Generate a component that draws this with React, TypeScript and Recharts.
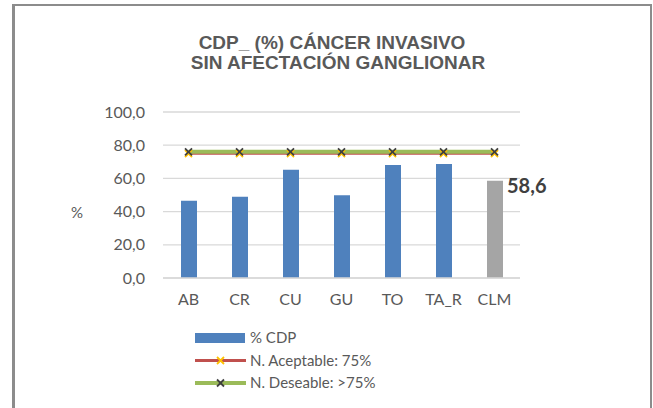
import React from "react";
import { ComposedChart, Bar, Line, XAxis, YAxis, CartesianGrid, Cell, LabelList } from "recharts";

const categories = ["AB", "CR", "CU", "GU", "TO", "TA_R", "CLM"];
const cdpValues = [46.5, 48.9, 65.2, 49.9, 68.1, 68.7, 58.6];
const aceptable = [75, 75, 75, 75, 75, 75, 75];
const deseable = [76, 76, 76, 76, 76, 76, 76];
const yTicks = [0, 20, 40, 60, 80, 100];
const titleLines = ["CDP_ (%) CÁNCER INVASIVO", "SIN AFECTACIÓN GANGLIONAR"];
const legendLabels = ["% CDP", "N. Aceptable: 75%", "N. Deseable: >75%"];

const data = categories.map((c, i) => ({
  cat: c,
  cdp: cdpValues[i],
  acep: aceptable[i],
  des: deseable[i],
}));

const BLUE = "#4f81bd";
const GREY = "#a5a5a5";
const RED = "#c0504d";
const GREEN = "#9bbb59";
const YELLOW = "#ffc000";
const DARK = "#404040";
const TEXT = "#595959";
const FONT = "Lato, 'Open Sans', sans-serif";

const XMark = (color: string) => (props: any) => {
  const { cx, cy } = props;
  if (cx == null || cy == null) return null;
  const s = 3.5;
  return (
    <g key={`${cx}-${cy}`}>
      <line x1={cx - s} y1={cy - s} x2={cx + s} y2={cy + s} stroke={color} strokeWidth={1.8} />
      <line x1={cx - s} y1={cy + s} x2={cx + s} y2={cy - s} stroke={color} strokeWidth={1.8} />
    </g>
  );
};

const fmt = (v: number) => v.toFixed(1).replace(".", ",");

const LegendBlock = () => {
  const types = ["bar", "acep", "des"];
  return (
    <svg width={260} height={70} style={{ position: "absolute", left: 195, top: 329, overflow: "visible" }}>
      {legendLabels.map((label, i) => {
        const y = 9 + i * 22.5;
        const t = types[i];
        return (
          <g key={label}>
            {t === "bar" && <rect x={0} y={y - 5} width={50} height={10} fill={BLUE} />}
            {t === "acep" && (
              <g>
                <line x1={0} y1={y} x2={51} y2={y} stroke={RED} strokeWidth={3} />
                {XMark(YELLOW)({ cx: 25.5, cy: y })}
              </g>
            )}
            {t === "des" && (
              <g>
                <line x1={0} y1={y} x2={51} y2={y} stroke={GREEN} strokeWidth={4} />
                {XMark(DARK)({ cx: 25.5, cy: y })}
              </g>
            )}
            <text x={55} y={y} dy="0.35em" fontSize={15} fill={TEXT} fontFamily={FONT}>
              {label}
            </text>
          </g>
        );
      })}
    </svg>
  );
};

export default function App() {
  return (
    <div style={{ position: "absolute", left: 0, top: 0, width: 653, height: 408, background: "#fff", overflow: "hidden" }}>
      <div
        style={{
          position: "absolute",
          left: 12,
          top: 4,
          width: 640,
          height: 420,
          borderTop: "2px solid #8c8c8c",
          borderLeft: "3px solid #8c8c8c",
          borderRight: "2px solid #8c8c8c",
          boxSizing: "border-box",
        }}
      />
      <ComposedChart
        width={653}
        height={408}
        data={data}
        margin={{ top: 112, right: 133, bottom: 100, left: 0 }}
        style={{ position: "absolute", left: 0, top: 0 }}
      >
        <text x={332} y={42} textAnchor="middle" dominantBaseline="central" fontSize={19} fontWeight="bold" fill={TEXT} fontFamily="'Liberation Sans', Arial, sans-serif">
          {titleLines[0]}
        </text>
        <text x={338} y={62} textAnchor="middle" dominantBaseline="central" fontSize={19} fontWeight="bold" fill={TEXT} fontFamily="'Liberation Sans', Arial, sans-serif">
          {titleLines[1]}
        </text>
        <text x={77} y={212} textAnchor="middle" dominantBaseline="central" fontSize={15} fill={TEXT} fontFamily={FONT}>
          %
        </text>
        <CartesianGrid vertical={false} stroke="#d9d9d9" strokeWidth={1.3} />
        <XAxis
          dataKey="cat"
          height={30}
          axisLine={{ stroke: "#d9d9d9", strokeWidth: 1.5 }}
          tickLine={false}
          tickSize={0}
          tickMargin={16}
          tick={{ fill: TEXT, fontSize: 16, fontFamily: FONT }}
        />
        <YAxis
          width={163}
          domain={[0, 100]}
          ticks={yTicks}
          tickFormatter={fmt}
          axisLine={false}
          tickLine={false}
          tickSize={0}
          tickMargin={18}
          tick={{ fill: TEXT, fontSize: 16, fontFamily: FONT }}
        />
        <Bar dataKey="cdp" barSize={16} isAnimationActive={false}>
          {data.map((d, i) => (
            <Cell key={d.cat} fill={i === data.length - 1 ? GREY : BLUE} />
          ))}
          <LabelList
            dataKey="cdp"
            content={(p: any) => {
              if (p.index !== data.length - 1) return null;
              return (
                <text
                  x={p.x + p.width + 4}
                  y={p.y + 4}
                  dominantBaseline="central"
                  fontSize={20}
                  fontWeight="bold"
                  fill={DARK}
                  fontFamily={FONT}
                >
                  {fmt(p.value)}
                </text>
              );
            }}
          />
        </Bar>
        <Line dataKey="acep" stroke={RED} strokeWidth={2.5} dot={XMark(YELLOW)} activeDot={false} isAnimationActive={false} />
        <Line dataKey="des" stroke={GREEN} strokeWidth={4} dot={XMark(DARK)} activeDot={false} isAnimationActive={false} />
      </ComposedChart>
      <LegendBlock />
    </div>
  );
}
